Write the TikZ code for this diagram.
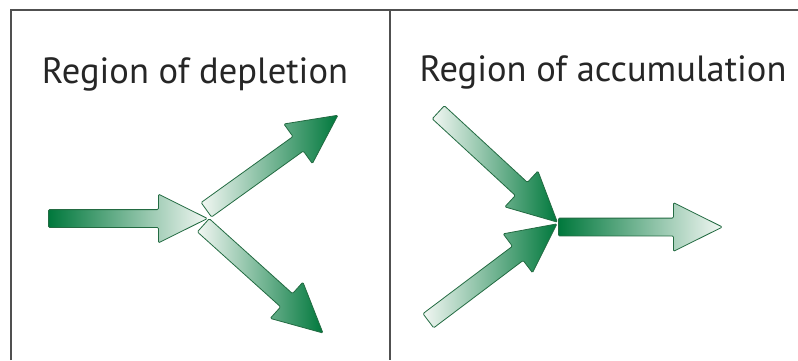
\documentclass[tikz,border=0pt]{standalone}
\usepackage{fontspec}
\setmainfont{PT Sans}
\definecolor{ggreen}{HTML}{00783C}
\definecolor{gpale}{HTML}{F2F7F3}
\definecolor{gedge}{HTML}{236B42}
\definecolor{gframe}{HTML}{505050}
\usetikzlibrary{shapes.arrows}

\begin{document}
\begin{tikzpicture}[x=1pt,y=-1pt,
  frame/.style={gframe,line width=1.6pt},
  title/.style={font=\fontsize{36.5}{42}\selectfont,anchor=base,inner sep=0pt,text=black!85},
  barrow/.style={single arrow,draw=gedge,line width=0.8pt,rounded corners=1.2pt,
    inner xsep=0pt,inner ysep=8.5pt,single arrow head extend=15.5pt,
    single arrow tip angle=53,minimum height=#1,anchor=tail},
  fadein/.style={left color=ggreen,right color=gpale},
  fadeout/.style={left color=gpale,right color=ggreen}]
  \useasboundingbox[fill=white] (0,0) rectangle (798,360);
  % panel frame
  \draw[frame] (11,360) -- (11,10) -- (798,10);
  \draw[frame] (390,10) -- (390,360);
  \node[title] (depl) at (195,83) {Region of depletion};
  \node[title] (accu) at (603,81) {Region of accumulation};
  % depletion: one in, two out
  \coordinate (dT) at (48,218.5);
  \coordinate (dU) at (206,210);
  \coordinate (dD) at (203,225);
  \node[barrow=159pt,fadein] (dIn) at (dT) {};
  \node[barrow=162pt,fadeout,rotate=35.7] (dUp) at (dU) {};
  \node[barrow=161pt,fadeout,rotate=-42] (dDown) at (dD) {};
  % accumulation: two in, one out
  \coordinate (aU) at (438,112);
  \coordinate (aL) at (428,321);
  \coordinate (aO) at (558,227);
  \node[barrow=162pt,fadeout,rotate=-42.7] (aUp) at (aU) {};
  \node[barrow=161pt,fadeout,rotate=37] (aLow) at (aL) {};
  \node[barrow=164pt,fadein] (aOut) at (aO) {};
\end{tikzpicture}
\end{document}
